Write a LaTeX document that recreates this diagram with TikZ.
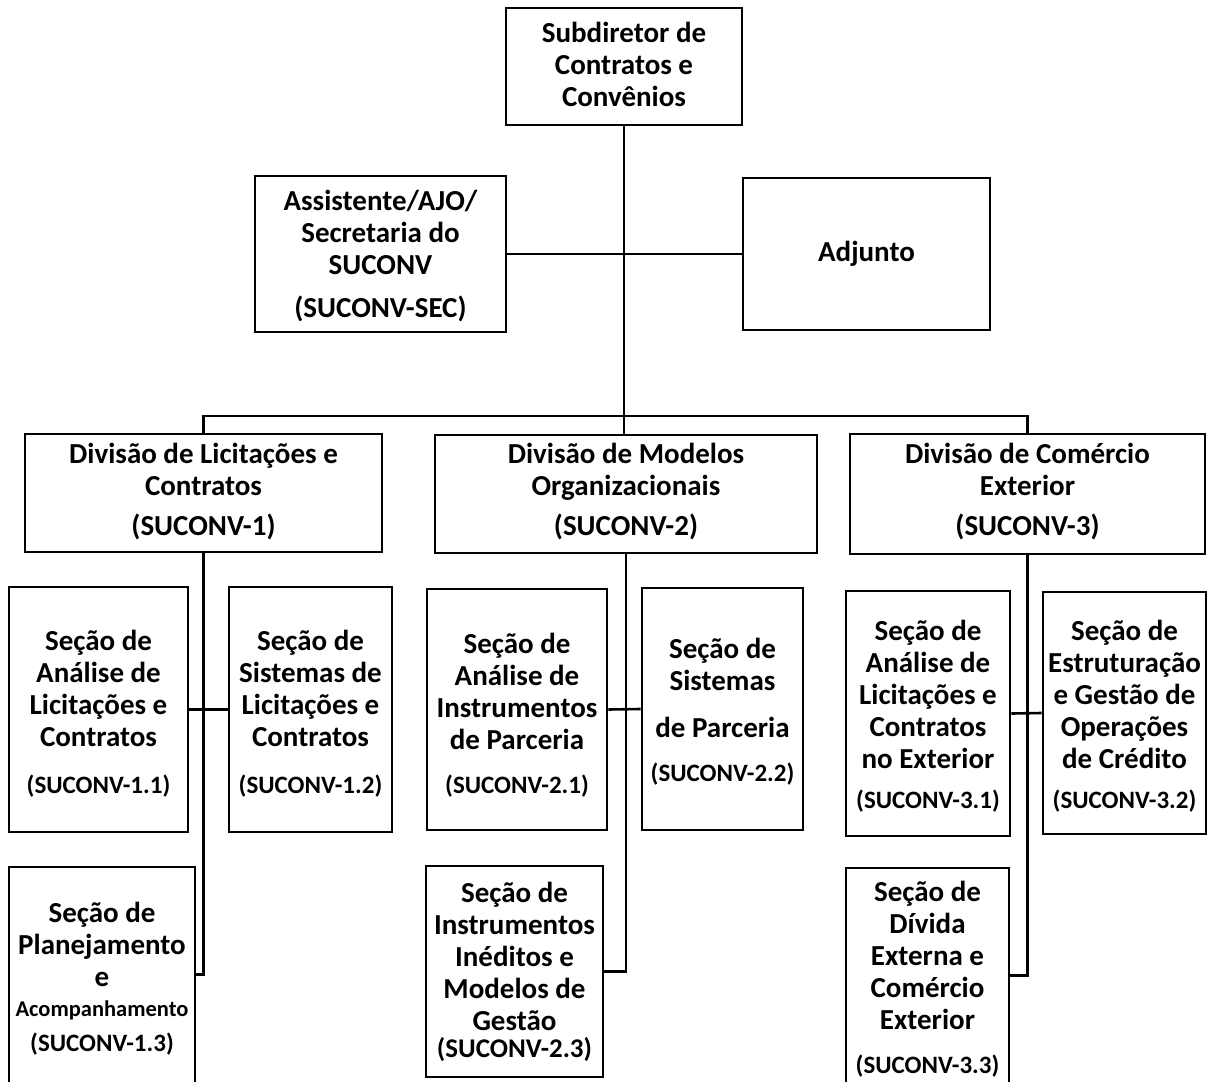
\documentclass[tikz,border=0pt]{standalone}
\usepackage{fontspec}
\setmainfont{Carlito}
\usetikzlibrary{calc}

% line strut: keeps every text line the same height and depth
\newcommand\ls{\rule[-0.28em]{0pt}{1.1em}}

% a drawn box given by its corners (x1,y1) and (x2,y2)
\newcommand\orgbox[5]{%
  \node[orgframe, minimum width={(#4-(#2))*1pt}, minimum height={(#5-(#3))*1pt}]
    (#1) at ({(#2+#4)/2},{(#3+#5)/2}) {};}

\tikzset{
  orgframe/.style={draw, line width=2.6pt, inner sep=0pt, rectangle},
  conn/.style={line width=2.6pt},
  ttl/.style={font=\bfseries\fontsize{29}{32}\selectfont, align=center, inner sep=0pt},
  code/.style={font=\bfseries\fontsize{25}{30}\selectfont, align=center, inner sep=0pt},
}

\begin{document}
\begin{tikzpicture}[x=1pt, y=-1pt]
  \fill[white] (0,0) rectangle (1211,1082);
  \clip (0,0) rectangle (1211,1082);

  % top level
  \orgbox{top}{506}{8}{742}{125}
  \orgbox{asst}{255}{176}{506}{332}
  \orgbox{adj}{743}{178}{990}{330}

  \node[ttl] (topT) at (624,66.5) {\ls Subdiretor de\\\ls Contratos e\\\ls Convênios};
  \node[ttl] (asstT) at (380.5,235) {\ls Assistente/AJO/\\\ls Secretaria do\\\ls SUCONV};
  \node[ttl] (asstC) at (380.5,310) {\ls (SUCONV-SEC)};
  \node[ttl] (adjT) at (866.5,254) {\ls Adjunto};

  % divisions
  \orgbox{div1}{25}{434}{382}{552}
  \orgbox{div2}{435}{435}{817}{553}
  \orgbox{div3}{850}{434}{1205}{554}

  \node[ttl] (div1T) at (203.5,471.5) {\ls Divisão de Licitações e\\\ls Contratos};
  \node[ttl] (div1C) at (203.5,528) {\ls (SUCONV-1)};
  \node[ttl] (div2T) at (626,471.5) {\ls Divisão de Modelos\\\ls Organizacionais};
  \node[ttl] (div2C) at (626,528) {\ls (SUCONV-2)};
  \node[ttl] (div3T) at (1027.5,471.5) {\ls Divisão de Comércio\\\ls Exterior};
  \node[ttl] (div3C) at (1027.5,528) {\ls (SUCONV-3)};

  % sections of division 1
  \orgbox{s11}{9}{587}{188}{832}
  \orgbox{s12}{229}{587}{392}{832}
  \orgbox{s13}{9}{867}{195}{1100}

  \node[ttl] (s11T) at (98.5,691) {\ls Seção de\\\ls Análise de\\\ls Licitações e\\\ls Contratos};
  \node[code] (s11C) at (98.5,787) {\ls (SUCONV-1.1)};
  \node[ttl] (s12T) at (310.5,691) {\ls Seção de\\\ls Sistemas de\\\ls Licitações e\\\ls Contratos};
  \node[code] (s12C) at (310.5,787) {\ls (SUCONV-1.2)};
  \node[ttl] (s13T) at (102,946.5) {\ls Seção de\\\ls Planejamento\\\ls e};
  \node[ttl, font=\bfseries\fontsize{22.5}{27}\selectfont] (s13A) at (102,1010) {\ls Acompanhamento};
  \node[code] (s13C) at (102,1045) {\ls (SUCONV-1.3)};

  % sections of division 2
  \orgbox{s21}{427}{589}{607}{830}
  \orgbox{s22}{642}{588}{803}{830}
  \orgbox{s23}{426}{866}{603}{1077}

  \node[ttl] (s21T) at (517,693.5) {\ls Seção de\\\ls Análise de\\\ls Instrumentos\\\ls de Parceria};
  \node[code] (s21C) at (517,787) {\ls (SUCONV-2.1)};
  \node[ttl] (s22T) at (722.5,667) {\ls Seção de\\\ls Sistemas};
  \node[ttl] (s22P) at (722.5,730) {\ls de Parceria};
  \node[code] (s22C) at (722.5,775) {\ls (SUCONV-2.2)};
  \node[ttl] (s23T) at (514.5,959) {\ls Seção de\\\ls Instrumentos\\\ls Inéditos e\\\ls Modelos de\\\ls Gestão};
  \node[code, font=\bfseries\fontsize{27}{30}\selectfont] (s23C) at (514.5,1050) {\ls (SUCONV-2.3)};

  % sections of division 3
  \orgbox{s31}{846}{591}{1010}{836}
  \orgbox{s32}{1043}{592}{1206}{834}
  \orgbox{s33}{846}{868}{1009}{1100}

  \node[ttl] (s31T) at (928,697) {\ls Seção de\\\ls Análise de\\\ls Licitações e\\\ls Contratos\\\ls no Exterior};
  \node[code] (s31C) at (928,802) {\ls (SUCONV-3.1)};
  \node[ttl] (s32T) at (1124.5,697) {\ls Seção de\\\ls Estruturação\\\ls e Gestão de\\\ls Operações\\\ls de Crédito};
  \node[code] (s32C) at (1124.5,802) {\ls (SUCONV-3.2)};
  \node[ttl] (s33T) at (927.5,957.5) {\ls Seção de\\\ls Dívida\\\ls Externa e\\\ls Comércio\\\ls Exterior};
  \node[code] (s33C) at (927.5,1067) {\ls (SUCONV-3.3)};

  % connectors
  \coordinate (bus) at (624,416);
  \draw[conn] (top.south) -- (top.south |- div2.north);
  \draw[conn] (asst.east) -- (adj.west);
  \draw[conn] (div1.north) -- (div1.north |- bus) -- (div3.north |- bus) -- (div3.north);

  \draw[conn] (div1.south) |- ($(s13.north east)+(0,109)$);
  \draw[conn] (s11.east) -- (s12.west);

  \draw[conn] (div2.south) |- (s23.east);
  \draw[conn] (s21.east) -- (s22.west);

  \draw[conn] (div3.south) |- ($(s33.north east)+(0,109)$);
  \draw[conn] (s31.east) -- (s32.west);
\end{tikzpicture}
\end{document}
